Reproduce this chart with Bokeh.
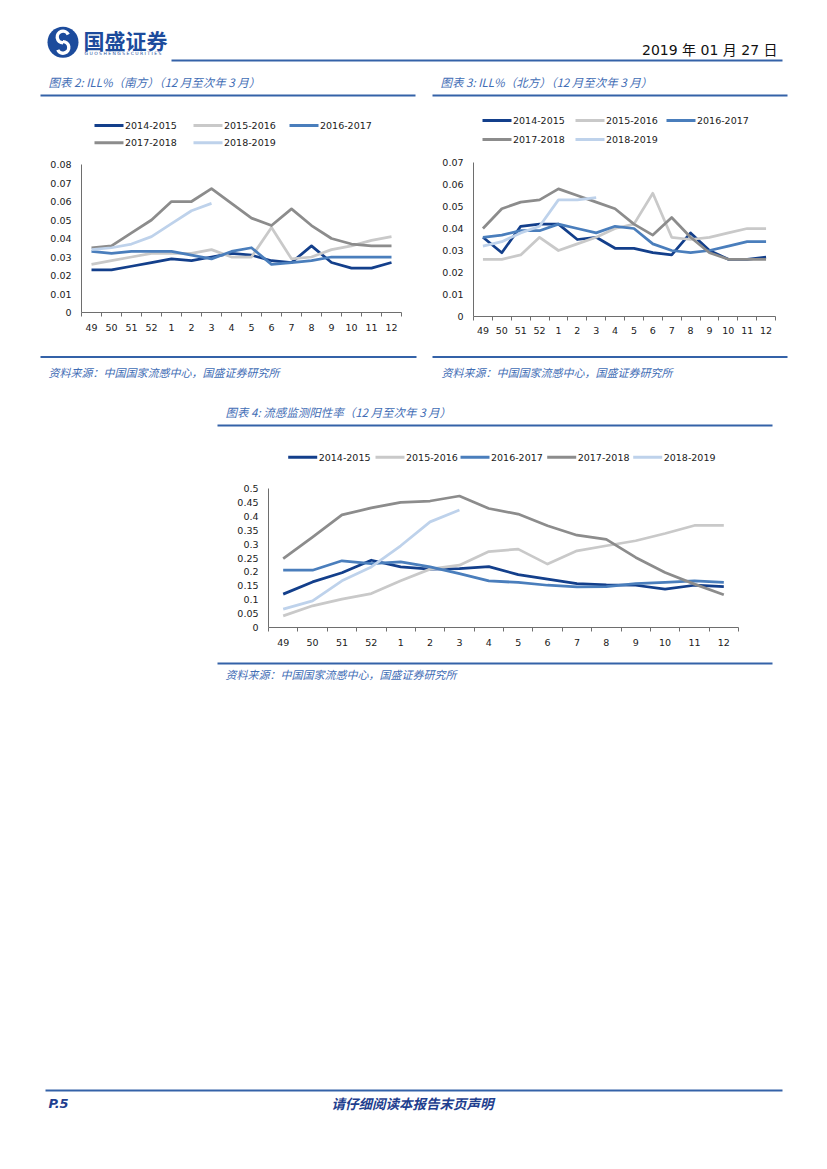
from bokeh.plotting import figure
from bokeh.layouts import column, row
from bokeh.models import Range1d, FixedTicker
from bokeh.core.properties import value
from bokeh.embed import file_html
from bokeh.resources import INLINE
import math

# ---------------- data ----------------
weeks = ["49", "50", "51", "52", "1", "2", "3", "4", "5", "6", "7", "8", "9", "10", "11", "12"]
seasons = ["2014-2015", "2015-2016", "2016-2017", "2017-2018", "2018-2019"]
colors = ["#133F8B", "#C9C9C9", "#4A7EBC", "#8C8C8C", "#BED2EB"]

# 图表2 ILL% 南方
south_1415 = [0.023, 0.023, 0.025, 0.027, 0.029, 0.028, 0.030, 0.032, 0.031, 0.028, 0.027, 0.036, 0.027, 0.024, 0.024, 0.027]
south_1516 = [0.026, 0.028, 0.030, 0.032, 0.032, 0.032, 0.034, 0.030, 0.030, 0.046, 0.029, 0.030, 0.034, 0.036, 0.039, 0.041]
south_1617 = [0.033, 0.032, 0.033, 0.033, 0.033, 0.031, 0.029, 0.033, 0.035, 0.026, 0.027, 0.028, 0.030, 0.030, 0.030, 0.030]
south_1718 = [0.035, 0.036, 0.043, 0.050, 0.060, 0.060, 0.067, 0.059, 0.051, 0.047, 0.056, 0.047, 0.040, 0.037, 0.036, 0.036]
south_1819 = [0.034, 0.035, 0.037, 0.041, 0.048, 0.055, 0.059]
south_yticks = [0, 0.01, 0.02, 0.03, 0.04, 0.05, 0.06, 0.07, 0.08]
south_ylabels = ["0", "0.01", "0.02", "0.03", "0.04", "0.05", "0.06", "0.07", "0.08"]

# 图表3 ILL% 北方
north_1415 = [0.036, 0.029, 0.041, 0.042, 0.042, 0.035, 0.036, 0.031, 0.031, 0.029, 0.028, 0.038, 0.030, 0.026, 0.026, 0.027]
north_1516 = [0.026, 0.026, 0.028, 0.036, 0.030, 0.033, 0.036, 0.040, 0.042, 0.056, 0.036, 0.035, 0.036, 0.038, 0.040, 0.040]
north_1617 = [0.036, 0.037, 0.039, 0.039, 0.042, 0.040, 0.038, 0.041, 0.040, 0.033, 0.030, 0.029, 0.030, 0.032, 0.034, 0.034]
north_1718 = [0.040, 0.049, 0.052, 0.053, 0.058, 0.055, 0.052, 0.049, 0.042, 0.037, 0.045, 0.036, 0.029, 0.026, 0.026, 0.026]
north_1819 = [0.032, 0.034, 0.038, 0.041, 0.053, 0.053, 0.054]
north_yticks = [0, 0.01, 0.02, 0.03, 0.04, 0.05, 0.06, 0.07]
north_ylabels = ["0", "0.01", "0.02", "0.03", "0.04", "0.05", "0.06", "0.07"]

# 图表4 流感监测阳性率
pos_1415 = [0.120, 0.164, 0.197, 0.242, 0.218, 0.210, 0.212, 0.219, 0.190, 0.174, 0.158, 0.153, 0.152, 0.138, 0.152, 0.147]
pos_1516 = [0.042, 0.078, 0.102, 0.122, 0.168, 0.210, 0.224, 0.273, 0.282, 0.228, 0.276, 0.294, 0.312, 0.338, 0.367, 0.367]
pos_1617 = [0.206, 0.206, 0.240, 0.230, 0.236, 0.218, 0.194, 0.168, 0.162, 0.152, 0.146, 0.147, 0.158, 0.162, 0.168, 0.162]
pos_1718 = [0.248, 0.325, 0.405, 0.430, 0.450, 0.455, 0.473, 0.428, 0.408, 0.366, 0.332, 0.317, 0.252, 0.198, 0.156, 0.118]
pos_1819 = [0.066, 0.096, 0.168, 0.218, 0.294, 0.380, 0.423]
pos_yticks = [0, 0.05, 0.1, 0.15, 0.2, 0.25, 0.3, 0.35, 0.4, 0.45, 0.5]
pos_ylabels = ["0", "0.05", "0.1", "0.15", "0.2", "0.25", "0.3", "0.35", "0.4", "0.45", "0.5"]

title2 = "图表 2:  ILL%（南方）（12 月至次年 3 月）"
title3 = "图表 3:  ILL%（北方）（12 月至次年 3 月）"
title4 = "图表 4:  流感监测阳性率（12 月至次年 3 月）"
source_text = "资料来源：中国国家流感中心，国盛证券研究所"
date_text = "2019 年 01 月 27 日"
brand_text = "国盛证券"
brand_en = "G U O S H E N G   S E C U R I T I E S"
page_text = "P.5"
footer_text = "请仔细阅读本报告末页声明"

# ---------------- styles ----------------
CJK = "Noto Sans CJK SC"
NUM = "DejaVu Sans"
MIX = "DejaVu Sans, Noto Sans CJK SC"
RULE = "#3462A8"
TITLE_C = "#3F6DB5"
DARK = "#1F3F8F"
AXIS = "#6E6E6E"
LABEL = "#1A1A1A"
PAGE_W = 827
TITLE_SIZE = "11.5px"


def canvas(w, h):
    p = figure(width=w, height=h, x_range=Range1d(0, w), y_range=Range1d(h, 0),
               x_axis_location=None, y_axis_location=None, toolbar_location=None,
               output_backend="svg", min_border=0, title=None)
    p.grid.visible = False
    p.outline_line_color = None
    return p


def txt(p, oy, x, y, s, size, color, font, style="normal", align="left"):
    p.text(x=[x], y=[y - oy], text=[s], text_font=value(font), text_font_size=size,
           text_color=color, text_font_style=style, text_align=align, text_baseline="middle")


def rule(p, oy, x0, x1, y, width=1.8, color=RULE):
    p.segment(x0=[x0], y0=[y - oy], x1=[x1], y1=[y - oy], line_color=color, line_width=width)


def legend(p, oy, positions):
    for s, c, (x, y) in zip(seasons, colors, positions):
        p.segment(x0=[x], y0=[y - oy], x1=[x + 29], y1=[y - oy], line_color=c, line_width=3)
        txt(p, oy, x + 30.5, y, s, "9.5px", LABEL, NUM)


def chart(w, h, bl, br, bt, bb, series, yticks, ylabels, ymax, xstand=7):
    p = figure(width=w, height=h, x_range=Range1d(0, len(weeks)), y_range=Range1d(0, ymax),
               toolbar_location=None, output_backend="svg", title=None,
               min_border_left=bl, min_border_right=br, min_border_top=bt, min_border_bottom=bb)
    p.grid.visible = False
    p.outline_line_color = None
    xs = [i + 0.5 for i in range(len(weeks))]
    for vals, c in zip(series, colors):
        p.line(x=xs[:len(vals)], y=vals, line_color=c, line_width=2.75, line_join="round")
    xa = p.xaxis[0]
    xa.ticker = FixedTicker(ticks=xs, minor_ticks=list(range(len(weeks) + 1)))
    xa.major_label_overrides = {x: wk for x, wk in zip(xs, weeks)}
    xa.major_tick_line_color = None
    xa.major_tick_out = 0
    xa.major_tick_in = 0
    xa.minor_tick_out = 4
    xa.minor_tick_in = 0
    xa.minor_tick_line_color = AXIS
    xa.axis_line_color = AXIS
    xa.major_label_standoff = xstand
    ya = p.yaxis[0]
    ya.ticker = FixedTicker(ticks=yticks)
    ya.major_label_overrides = dict(zip(yticks, ylabels))
    ya.major_tick_line_color = None
    ya.major_tick_out = 0
    ya.major_tick_in = 0
    ya.minor_tick_line_color = None
    ya.axis_line_color = AXIS
    ya.major_label_standoff = 10
    for ax in (xa, ya):
        ax.major_label_text_font = NUM
        ax.major_label_text_font_size = "9.5px"
        ax.major_label_text_color = LABEL
        ax.axis_line_width = 1
    return p


# ---------------- header region (page y 0..150) ----------------
OY_A = 0
top = canvas(PAGE_W, 150)
cx, cy = 62.5, 41.7
top.circle(x=[cx], y=[cy], radius=15.5, fill_color="#1C4B9C", line_color=None)
top.arc(x=[cx], y=[cy - 5.2], radius=5.8, start_angle=math.radians(25), end_angle=math.radians(270),
        direction="anticlock", line_color="white", line_width=3.4)
top.arc(x=[cx], y=[cy + 5.2], radius=5.8, start_angle=math.radians(205), end_angle=math.radians(90),
        direction="anticlock", line_color="white", line_width=3.4)
txt(top, OY_A, 83, 39.5, brand_text, "21px", "#1C4B9C", CJK, style="bold")
txt(top, OY_A, 84, 52.5, brand_en, "4.5px", "#1C4B9C", NUM)
rule(top, OY_A, 171, 782, 60, width=2.2)
txt(top, OY_A, 777, 49, date_text, "14px", "#111111", MIX, align="right")
txt(top, OY_A, 48, 81, title2, TITLE_SIZE, TITLE_C, CJK, style="italic")
txt(top, OY_A, 440, 81, title3, TITLE_SIZE, TITLE_C, CJK, style="italic")
rule(top, OY_A, 40, 415, 95)
rule(top, OY_A, 432, 787, 95)
legend(top, OY_A, [(94, 125), (193, 125), (289, 125), (94, 142.3), (193, 142.3)])
legend(top, OY_A, [(482, 120), (575, 120), (666, 120), (482, 139), (575, 139)])

# ---------------- charts 2 & 3 (page y 150..345) ----------------
c1 = chart(424, 195, 81, 23, 14, 33,
           [south_1415, south_1516, south_1617, south_1718, south_1819],
           south_yticks, south_ylabels, 0.08, xstand=7)
c2 = chart(403, 195, 49, 52, 12, 29,
           [north_1415, north_1516, north_1617, north_1718, north_1819],
           north_yticks, north_ylabels, 0.07, xstand=6)

# ---------------- middle region (page y 345..470) ----------------
OY_B = 345
mid = canvas(PAGE_W, 125)
rule(mid, OY_B, 40, 416, 356.5)
rule(mid, OY_B, 432, 787, 356.5)
txt(mid, OY_B, 48, 371, source_text, "11px", TITLE_C, CJK, style="italic")
txt(mid, OY_B, 441, 371, source_text, "11px", TITLE_C, CJK, style="italic")
txt(mid, OY_B, 225, 411.7, title4, TITLE_SIZE, TITLE_C, CJK, style="italic")
rule(mid, OY_B, 217, 772, 425)
legend(mid, OY_B, [(287.7, 456.7), (375, 456.7), (460, 456.7), (546.7, 456.7), (632.7, 456.7)])

# ---------------- chart 4 (page y 470..660) ----------------
c3 = chart(PAGE_W, 190, 268, 89, 18, 33,
           [pos_1415, pos_1516, pos_1617, pos_1718, pos_1819],
           pos_yticks, pos_ylabels, 0.5, xstand=7)

# ---------------- bottom region (page y 660..1140) ----------------
OY_C = 660
bot = canvas(PAGE_W, 480)
rule(bot, OY_C, 217, 772, 663)
txt(bot, OY_C, 225, 673, source_text, "11px", TITLE_C, CJK, style="italic")
rule(bot, OY_C, 45, 782, 1090, width=2.2)
txt(bot, OY_C, 48, 1103, page_text, "13px", DARK, NUM, style="bold italic")
txt(bot, OY_C, 412, 1102, footer_text, "13.5px", DARK, CJK, style="bold italic", align="center")

layout = column(row(top), row(column(c1), column(c2)), row(mid), row(c3), row(bot))
open("out.html", "w").write(file_html(layout, INLINE))
